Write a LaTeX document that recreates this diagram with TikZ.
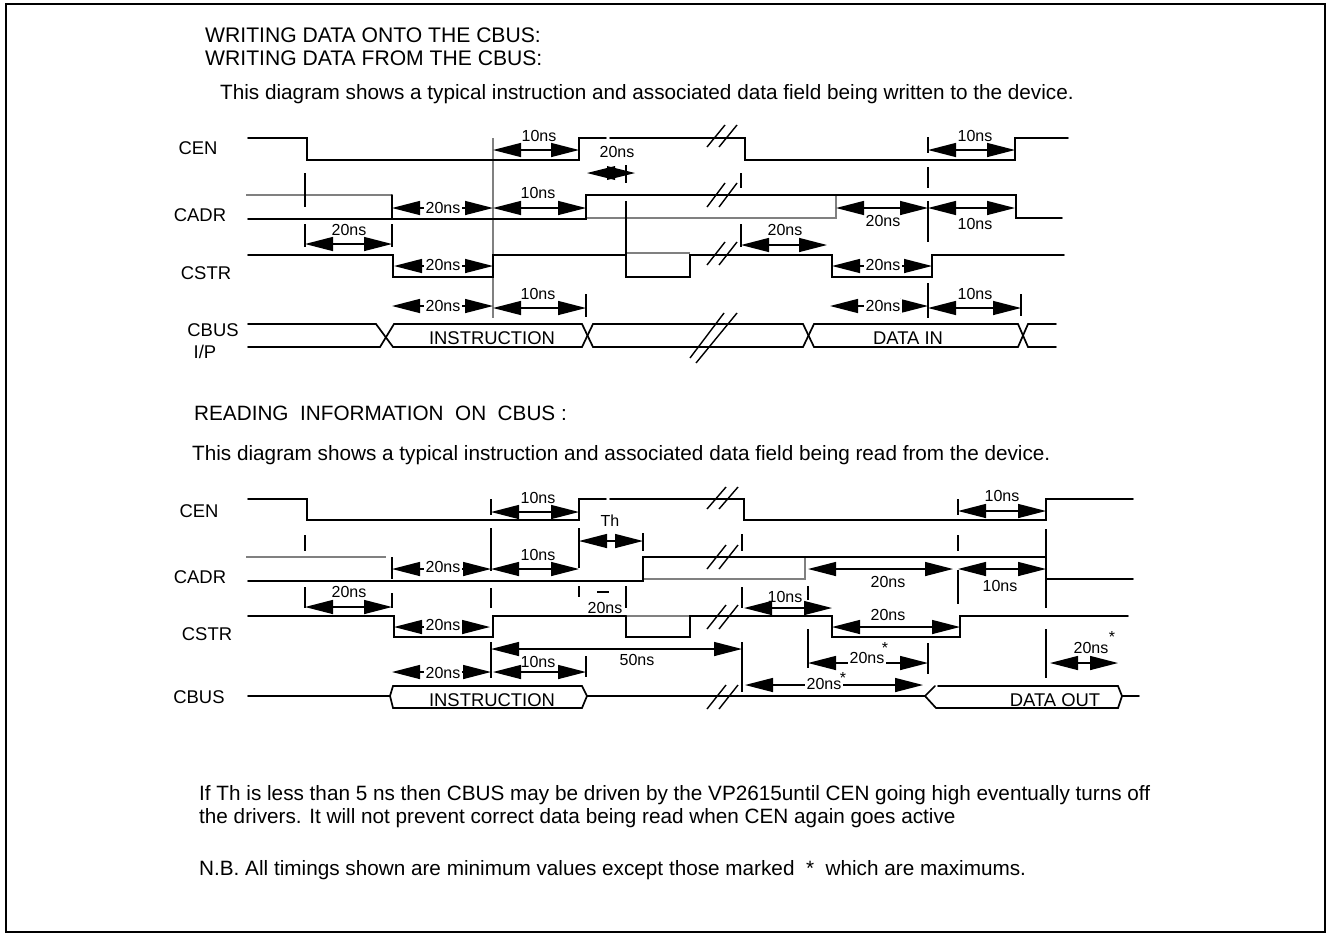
\documentclass[tikz,border=0pt]{standalone}
\usepackage{fontspec}
\setmainfont{Liberation Sans}
\usetikzlibrary{arrows.meta}
\definecolor{grayline}{HTML}{808080}
\newcounter{lb}
\tikzset{
  wave/.style={line width=1.7bp,black,line cap=round},
  gwave/.style={line width=1.6bp,grayline},
  tick/.style={line width=1.4bp,black},
  slash/.style={line width=1.4bp,black},
  dimline/.style={line width=1.4bp,black,{Triangle[length=28bp,width=14bp]}-{Triangle[length=28bp,width=14bp]}},
  txt/.style={inner sep=0pt,text height=11.5bp,text depth=0pt,font=\fontsize{16.06}{19}\selectfont},
  nametxt/.style={inner sep=0pt,text height=13.2bp,text depth=0pt,font=\fontsize{18.5}{22}\selectfont},
  ltxt/.style={inner sep=0pt,text height=15bp,text depth=0pt,anchor=west,font=\fontsize{20.8}{24}\selectfont},
  htxt/.style={ltxt,font=\fontsize{21.2}{24}\selectfont},
  gaptxt/.style={txt,fill=white,inner xsep=1.5bp,inner ysep=1bp}
}
\newcommand{\tlabel}[3]{\stepcounter{lb}\node[txt] (lb\arabic{lb}) at (#1,#2) {#3};}
\newcommand{\nlabel}[3]{\stepcounter{lb}\node[nametxt] (lb\arabic{lb}) at (#1,#2) {#3};}
\newcommand{\llabel}[3]{\stepcounter{lb}\node[ltxt] (lb\arabic{lb}) at (#1,#2) {#3};}
\newcommand{\hlabel}[3]{\stepcounter{lb}\node[htxt] (lb\arabic{lb}) at (#1,#2) {#3};}
\newcommand{\gaplabel}[3]{\stepcounter{lb}\node[gaptxt] (lb\arabic{lb}) at (#1,#2) {#3};}
\newcommand{\dimar}[3]{\draw[dimline] (#1,#3) -- (#2,#3);}
\newcommand{\vticks}[2]{\foreach \a/\b in {#2} \draw[tick] (#1,\a) -- (#1,\b);}
\newcommand{\slashes}[3]{\draw[slash] (707,#1) -- (#3,#2); \draw[slash] (719,#1) -- (#3+12,#2);}
\begin{document}
\begin{tikzpicture}[x=1bp,y=-1bp]
\useasboundingbox (0,0) rectangle (1329,934);
\draw[line width=2bp] (6,3.5) rectangle (1324.5,932);
% headings
\hlabel{205}{35}{WRITING DATA ONTO THE CBUS:}
\hlabel{205}{58}{WRITING DATA FROM THE CBUS:}
\llabel{220}{92}{This diagram shows a typical instruction and associated data field being written to the device.}
\llabel{194}{413}{READING\ \ INFORMATION\ \ ON\ \ CBUS :}
\llabel{192}{453}{This diagram shows a typical instruction and associated data field being read from the device.}
\llabel{199}{793}{If Th is less than 5 ns then CBUS may be driven by the VP2615until CEN going high eventually turns off}
\llabel{199}{816}{the drivers. It will not prevent correct data being read when CEN again goes active}
\llabel{199}{868}{N.B. All timings shown are minimum values except those marked\ \ *\ \ which are maximums.}
% ---------- upper diagram: names
\nlabel{198}{148}{CEN}
\nlabel{200}{215}{CADR}
\nlabel{206}{273}{CSTR}
\nlabel{213}{330}{CBUS}
\nlabel{205}{352}{I/P}
% gray parts
\draw[gwave] (246,195) -- (392,195);
\draw[gwave] (587,218) -- (836,218) -- (836,195);
\draw[gwave] (493,138) -- (493,318);
\draw[gwave] (626,253) -- (690,253);
% waves
\draw[wave] (248,138) -- (307,138) -- (307,160) -- (579,160) -- (579,138) -- (606,138);
\draw[wave] (610,138) -- (745,138) -- (745,160) -- (1015,160) -- (1015,138) -- (1068,138);
\draw[wave] (392,195) -- (392,219);
\draw[wave] (248,219) -- (586,219) -- (586,195) -- (1016,195) -- (1016,218) -- (1062,218);
\draw[wave] (248,255) -- (393,255) -- (393,277) -- (493,277) -- (493,255) -- (626,255) -- (626,277) -- (690,277) -- (690,255) -- (832,255) -- (832,277) -- (932,277) -- (932,255) -- (1064,255);
\draw[wave] (248,324) -- (376,324) -- (393,347) -- (582,347) -- (593,324) -- (803,324) -- (814,347) -- (1018,347) -- (1028,324) -- (1056,324);
\draw[wave] (248,347) -- (380,347) -- (394,324) -- (582,324) -- (593,347) -- (803,347) -- (814,324) -- (1018,324) -- (1028,347) -- (1056,347);
% ticks
\vticks{305}{173/207,224/247}
\vticks{392}{224/247}
\vticks{626}{165/183,201/255}
\vticks{741}{173/188,224/247}
\vticks{928}{137/153,167/188,201/242,283/318}
\vticks{586}{294/317}
\vticks{1021}{294/316}
% slashes
\slashes{147}{125}{725}
\slashes{207}{183}{725}
\slashes{265}{242}{725}
\draw[slash] (690,358) -- (724,313);
\draw[slash] (696,363) -- (737,313);
% dimension arrows
\dimar{493}{579}{150}\tlabel{539}{136}{10ns}
\fill (587,173) -- (615,166) -- (615,180) -- cycle;
\fill (635,173) -- (607,166) -- (607,180) -- cycle;
\tlabel{617}{152}{20ns}
\dimar{392}{493}{208}\gaplabel{443}{208}{20ns}
\dimar{493}{586}{208}\tlabel{538}{193}{10ns}
\dimar{305}{392}{244}\tlabel{349}{230}{20ns}
\dimar{394}{493}{266}\gaplabel{443}{265}{20ns}
\dimar{392}{493}{306}\gaplabel{443}{306}{20ns}
\dimar{493}{586}{308}\tlabel{538}{294}{10ns}
\dimar{928}{1015}{150}\tlabel{975}{136}{10ns}
\dimar{836}{928}{208}\tlabel{883}{221}{20ns}
\dimar{928}{1015}{208}\tlabel{975}{224}{10ns}
\dimar{741}{827}{245}\tlabel{785}{230}{20ns}
\dimar{832}{932}{266}\gaplabel{883}{265}{20ns}
\dimar{830}{928}{306}\gaplabel{883}{306}{20ns}
\dimar{928}{1021}{308}\tlabel{975}{294}{10ns}
\nlabel{492}{338}{INSTRUCTION}
\nlabel{908}{338}{DATA IN}
% ---------- lower diagram: names
\nlabel{199}{511}{CEN}
\nlabel{200}{577}{CADR}
\nlabel{207}{634}{CSTR}
\nlabel{199}{697}{CBUS}
% gray parts
\draw[gwave] (246,557) -- (386,557);
\draw[gwave] (643,579) -- (805,579) -- (805,557);
\draw[gwave] (626,616) -- (690,616);
% waves
\draw[wave] (248,499) -- (307,499) -- (307,520) -- (579,520) -- (579,499) -- (606,499);
\draw[wave] (610,499) -- (744,499) -- (744,520) -- (1046,520) -- (1046,499) -- (1133,499);
\draw[wave] (248,581) -- (643,581) -- (643,557) -- (1046,557) -- (1046,579) -- (1133,579);
\draw[wave] (248,616) -- (394,616) -- (394,637) -- (493,637) -- (493,616) -- (626,616);
\draw[wave] (626,616) -- (626,637) -- (690,637) -- (690,616) -- (832,616) -- (832,637) -- (960,637) -- (960,616) -- (1128,616);
\draw[wave] (248,696) -- (390,696) -- (393,686) -- (582,686) -- (587,696) -- (582,708) -- (393,708) -- (390,696);
\draw[wave] (587,696) -- (925,696) -- (935,686);
\draw[wave] (938,686) -- (1118,686) -- (1122,696) -- (1118,708) -- (936,708) -- (925,696);
\draw[wave] (1122,696) -- (1139,696);
% ticks
\vticks{305}{535/551,587/608}
\vticks{392}{557/579,593/608}
\vticks{491}{499/515,528/571,588/608,642/678}
\vticks{579}{528/568,586/597}
\vticks{626}{586/608}
\vticks{643}{533/551}
\vticks{742}{534/551,587/608,642/692}
\vticks{808}{586/600,629/668}
\vticks{958}{499/515,535/551,570/604}
\vticks{1046}{529/557,579/608,629/678}
\vticks{928}{643/674}
\vticks{586}{656/677}
\draw[tick] (597,592) -- (609,592);
% slashes
\slashes{509}{487}{726}
\slashes{569}{545}{726}
\slashes{629}{605}{726}
\slashes{709}{685}{726}
% dimension arrows
\dimar{491}{579}{512}\tlabel{538}{498}{10ns}
\dimar{579}{643}{541}\tlabel{610}{521}{Th}
\dimar{392}{491}{569}\gaplabel{443}{567}{20ns}
\dimar{491}{579}{569}\tlabel{538}{555}{10ns}
\dimar{305}{392}{607}\tlabel{349}{592}{20ns}
\tlabel{605}{608}{20ns}
\dimar{394}{490}{627}\gaplabel{443}{625}{20ns}
\dimar{491}{742}{649}\tlabel{637}{660}{50ns}
\dimar{493}{586}{672}\tlabel{538}{662}{10ns}
\dimar{392}{491}{672}\gaplabel{443}{673}{20ns}
\dimar{744}{832}{608}\tlabel{785}{597}{10ns}
\dimar{808}{953}{569}\tlabel{888}{582}{20ns}
\dimar{958}{1046}{569}\tlabel{1000}{586}{10ns}
\dimar{832}{960}{627}\tlabel{888}{615}{20ns}
\dimar{808}{928}{663}\gaplabel{867}{658}{20ns}
\tlabel{885}{648}{*}
\dimar{745}{923}{685}\gaplabel{824}{684}{20ns}
\tlabel{843}{678}{*}
\dimar{958}{1046}{511}\tlabel{1002}{496}{10ns}
\dimar{1050}{1118}{663}\tlabel{1091}{648}{20ns}
\tlabel{1112}{637}{*}
\nlabel{492}{700}{INSTRUCTION}
\nlabel{1055}{700}{DATA OUT}
\end{tikzpicture}
\end{document}
